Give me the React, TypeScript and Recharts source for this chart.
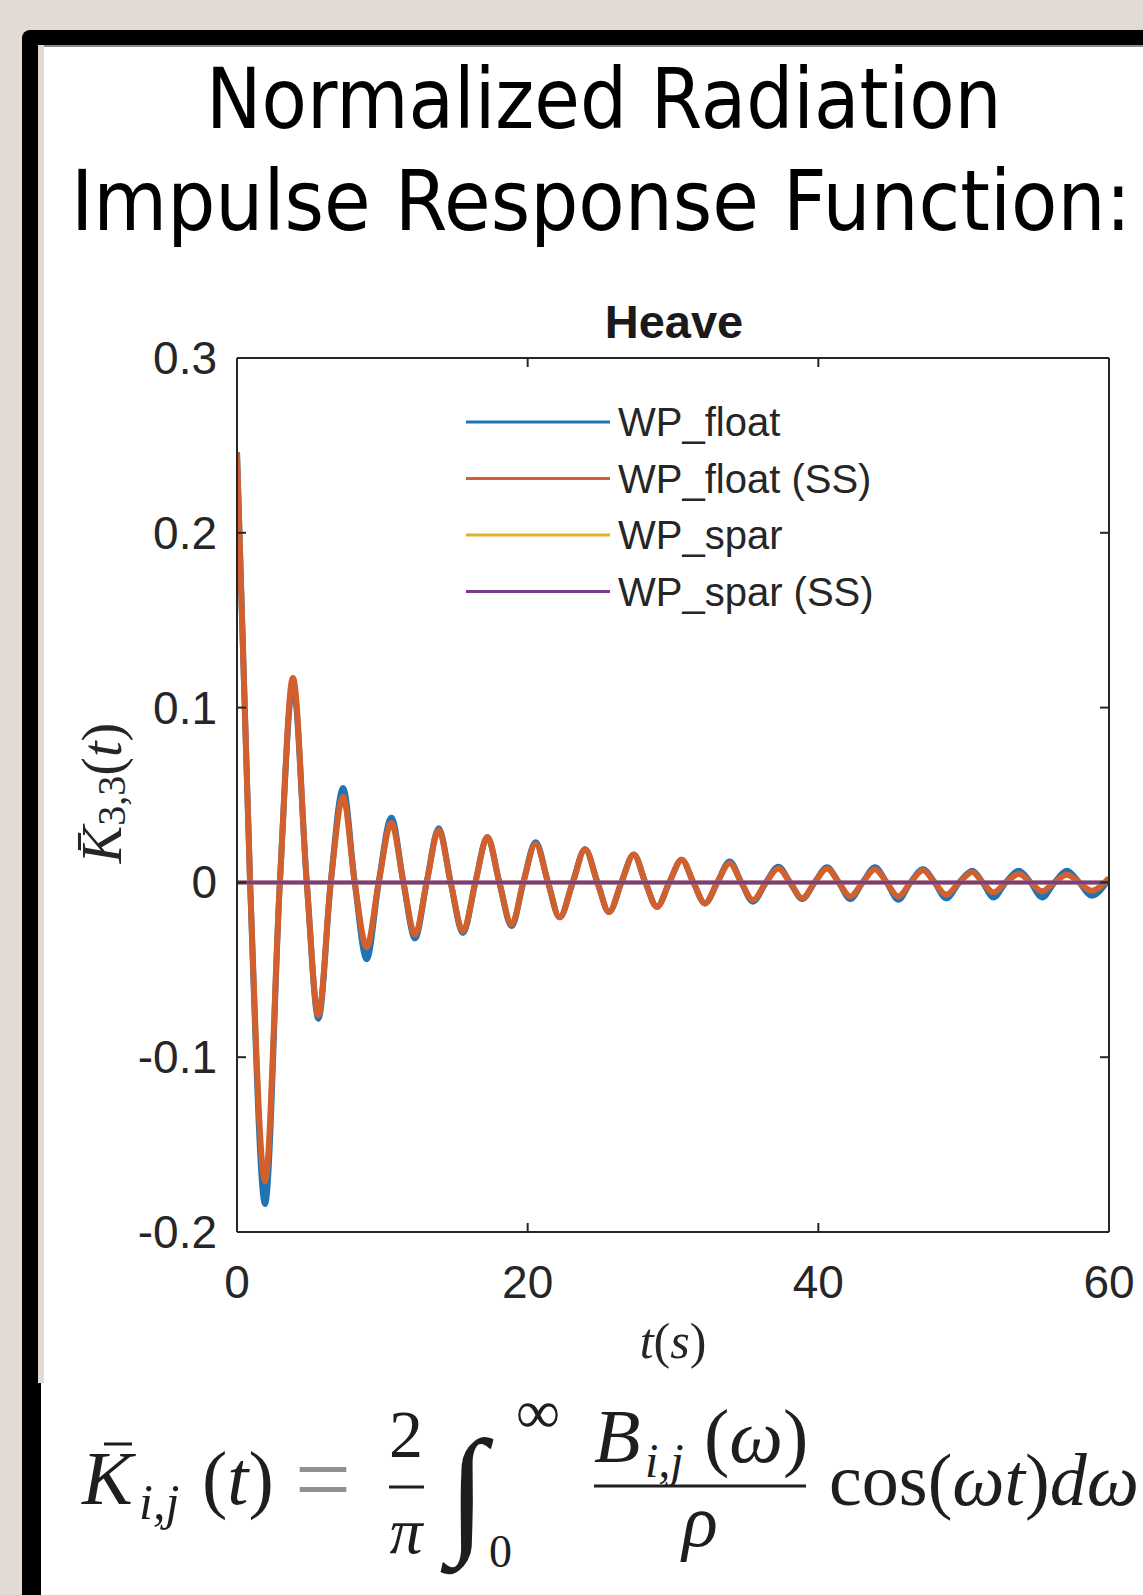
import React from "react"
import { LineChart, Line, XAxis, YAxis, Legend, Label } from "recharts"

// values (t in seconds, normalized IRF)
const timeS = [
  0, 0.9, 1.93, 2.95, 3.85, 4.8, 5.6, 6.45, 7.3, 8.1, 8.92, 9.75, 10.62, 11.45, 12.25, 13.05,
  13.88, 14.7, 15.55, 16.4, 17.23, 18.05, 18.9, 19.7, 20.55, 21.4, 22.2, 23.1, 23.95, 24.8,
  25.6, 26.45, 27.3, 28.1, 28.9, 29.75, 30.6, 31.4, 32.2, 33.05, 33.9, 34.7, 35.5, 36.4, 37.25,
  38.05, 38.9, 39.75, 40.6, 41.4, 42.2, 43.05, 43.9, 44.7, 45.5, 46.35, 47.2, 48.0, 48.8, 49.7,
  50.6, 51.3, 52.05, 52.9, 53.8, 54.6, 55.4, 56.25, 57.1, 57.95, 58.8, 60,
]
const wpFloat = [
  0.246, 0, -0.184, 0, 0.113, 0, -0.078, 0, 0.054, 0, -0.044, 0, 0.037, 0, -0.032, 0,
  0.031, 0, -0.029, 0, 0.026, 0, -0.025, 0, 0.023, 0, -0.02, 0, 0.019, 0,
  -0.017, 0, 0.016, 0, -0.014, 0, 0.013, 0, -0.012, 0, 0.012, 0, -0.011, 0, 0.009,
  0, -0.0095, 0, 0.0086, 0, -0.0095, 0, 0.0086, 0, -0.0099, 0, 0.0076, 0, -0.0091, 0,
  0.0067, 0, -0.0086, 0, 0.0067, 0, -0.0086, 0, 0.0067, 0, -0.0076, 0.002,
]
const wpFloatSS = [
  0.246, 0, -0.171, 0, 0.117, 0, -0.076, 0, 0.049, 0, -0.037, 0, 0.034, 0, -0.03, 0,
  0.03, 0, -0.028, 0, 0.026, 0, -0.024, 0, 0.022, 0, -0.02, 0, 0.019, 0,
  -0.017, 0, 0.016, 0, -0.014, 0, 0.013, 0, -0.012, 0, 0.011, 0, -0.01, 0, 0.008,
  0, -0.009, 0, 0.008, 0, -0.008, 0, 0.0075, 0, -0.008, 0, 0.007, 0, -0.007, 0,
  0.006, 0, -0.0057, 0, 0.0048, 0, -0.0051, 0, 0.0044, 0, -0.0048, 0.0025,
]
const sparTimeS = [0, 20, 40, 60]
const wpSpar = [0, 0, 0, 0]
const wpSparSS = [0, 0, 0, 0]

const xTicks = [0, 20, 40, 60]
const yTicks = [-0.2, -0.1, 0, 0.1, 0.2, 0.3]

const seriesNames = ["WP_float", "WP_float (SS)", "WP_spar", "WP_spar (SS)"]
const seriesColors = ["#1f74b5", "#d2602c", "#e0b12d", "#7a3a8e"]

const toRows = (ts: number[], vs: number[]) => ts.map((t, i) => ({ t, v: vs[i] }))

const SANS = "'Liberation Sans', Arial, Helvetica, sans-serif"
const SERIF = "'Liberation Serif', 'Times New Roman', serif"
const TITLE_FONT = "'DejaVu Sans', Verdana, sans-serif"
const INK = "#262626"
const TICK = 9
const TICK_FONT = 46

function BottomTick(props: any) {
  const { x, y, payload } = props
  return (
    <g>
      <line x1={x} x2={x} y1={y} y2={y - TICK} stroke={INK} strokeWidth={2} />
      <text x={x} y={y + 66} textAnchor="middle" fontSize={TICK_FONT} fontFamily={SANS} fill={INK}>
        {payload.value}
      </text>
    </g>
  )
}

function TopTick(props: any) {
  const { x, y } = props
  return <line x1={x} x2={x} y1={y} y2={y + TICK} stroke={INK} strokeWidth={2} />
}

function LeftTick(props: any) {
  const { x, y, payload } = props
  return (
    <g>
      <line x1={x} x2={x + TICK} y1={y} y2={y} stroke={INK} strokeWidth={2} />
      <text x={x - 20} y={y + 16} textAnchor="end" fontSize={TICK_FONT} fontFamily={SANS} fill={INK}>
        {payload.value}
      </text>
    </g>
  )
}

function RightTick(props: any) {
  const { x, y } = props
  return <line x1={x} x2={x - TICK} y1={y} y2={y} stroke={INK} strokeWidth={2} />
}

function XTitle(props: any) {
  const vb = props.viewBox || {}
  const cx = vb.x + vb.width / 2
  return (
    <text x={cx} y={vb.y + 126} textAnchor="middle" fontSize={50} fontFamily={SERIF} fill={INK}>
      <tspan fontSize={50} fontStyle="italic">t</tspan>
      <tspan fontSize={50}>(</tspan>
      <tspan fontSize={50} fontStyle="italic">s</tspan>
      <tspan fontSize={50}>)</tspan>
    </text>
  )
}

function YTitle(props: any) {
  const vb = props.viewBox || {}
  const cx = vb.x + 102
  const cy = vb.y + vb.height / 2 - 2
  return (
    <text
      x={cx}
      y={cy}
      transform={`rotate(-90 ${cx} ${cy})`}
      textAnchor="middle"
      dominantBaseline="central"
      fontSize={56}
      fontFamily={SERIF}
      fill={INK}
    >
      <tspan fontStyle="italic" fontSize={56}>K{"\u0304"}</tspan>
      <tspan fontSize={40} dy={9}>3,3</tspan>
      <tspan fontSize={56} dy={-9}>(</tspan>
      <tspan fontStyle="italic" fontSize={56}>t</tspan>
      <tspan fontSize={56}>)</tspan>
    </text>
  )
}

function LegendBox(props: any) {
  const payload = props.payload || []
  return (
    <svg width={440} height={230} style={{ display: "block" }}>
      {payload.map((entry: any, i: number) => {
        const cy = 27 + i * 56.5
        return (
          <g key={entry.value}>
            <line x1={6} x2={150} y1={cy} y2={cy} stroke={entry.color} strokeWidth={3} />
            <text x={158} y={cy + 14} fontSize={40} fontFamily={SANS} fill={INK}>
              {entry.value}
            </text>
          </g>
        )
      })}
    </svg>
  )
}

export default function App() {
  const floatRows = toRows(timeS, wpFloat)
  const floatSSRows = toRows(timeS, wpFloatSS)
  const sparRows = toRows(sparTimeS, wpSpar)
  const sparSSRows = toRows(sparTimeS, wpSparSS)

  return (
    <div
      style={{
        position: "absolute",
        left: 0,
        top: 0,
        width: 1143,
        height: 1595,
        background: "#e2dbd5",
        overflow: "hidden",
      }}
    >
      {/* slide frame */}
      <div style={{ position: "absolute", left: 22, top: 30, width: 1200, height: 1700, background: "#000", borderTopLeftRadius: 8 }} />
      <div style={{ position: "absolute", left: 38, top: 45, width: 1200, height: 1338, background: "#e2dbd5" }} />
      <div style={{ position: "absolute", left: 44, top: 45, width: 1200, height: 1338, background: "#fff", borderTop: "2px solid #8c8c8c", boxSizing: "border-box" }} />
      <div style={{ position: "absolute", left: 41, top: 1383, width: 1200, height: 300, background: "#fff" }} />

      <div style={{ position: "absolute", left: 0, top: 0 }}>
        <LineChart width={1143} height={1595} margin={{ top: 356, right: 32, bottom: 223, left: 0 }}>
          <XAxis
            type="number"
            dataKey="t"
            domain={[0, 60]}
            ticks={xTicks}
            interval={0}
            allowDataOverflow
            height={140}
            tickSize={0}
            tickMargin={0}
            tickLine={false}
            tick={BottomTick}
            axisLine={{ stroke: INK, strokeWidth: 2 }}
          >
            <Label content={XTitle} />
          </XAxis>
          <XAxis
            xAxisId="top"
            orientation="top"
            type="number"
            dataKey="t"
            domain={[0, 60]}
            ticks={xTicks}
            interval={0}
            allowDataOverflow
            height={2}
            tickSize={0}
            tickMargin={0}
            tickLine={false}
            tick={TopTick}
            axisLine={{ stroke: INK, strokeWidth: 2 }}
          />
          <YAxis
            type="number"
            domain={[-0.2, 0.3]}
            ticks={yTicks}
            interval={0}
            allowDataOverflow
            width={237}
            tickSize={0}
            tickMargin={0}
            tickLine={false}
            tick={LeftTick}
            axisLine={{ stroke: INK, strokeWidth: 2 }}
          >
            <Label content={YTitle} />
          </YAxis>
          <YAxis
            yAxisId="right"
            orientation="right"
            type="number"
            domain={[-0.2, 0.3]}
            ticks={yTicks}
            interval={0}
            allowDataOverflow
            width={2}
            tickSize={0}
            tickMargin={0}
            tickLine={false}
            tick={RightTick}
            axisLine={{ stroke: INK, strokeWidth: 2 }}
          />
          <Legend
            layout="vertical"
            align="center"
            verticalAlign="middle"
            wrapperStyle={{ left: 460, top: 395, width: 440, height: 230 }}
            content={LegendBox}
          />
          <Line data={floatRows} dataKey="v" name={seriesNames[0]} type="monotone" stroke={seriesColors[0]} strokeWidth={6} dot={false} activeDot={false} isAnimationActive={false} />
          <Line data={floatSSRows} dataKey="v" name={seriesNames[1]} type="monotone" stroke={seriesColors[1]} strokeWidth={6} dot={false} activeDot={false} isAnimationActive={false} />
          <Line data={sparRows} dataKey="v" name={seriesNames[2]} type="monotone" stroke={seriesColors[2]} strokeWidth={4} dot={false} activeDot={false} isAnimationActive={false} />
          <Line data={sparSSRows} dataKey="v" name={seriesNames[3]} type="monotone" stroke={seriesColors[3]} strokeWidth={4} dot={false} activeDot={false} isAnimationActive={false} />
        </LineChart>
      </div>

      {/* slide title, subplot title and formula */}
      <svg width={1143} height={1595} style={{ position: "absolute", left: 0, top: 0, pointerEvents: "none" }}>
        <text transform="translate(206 128) scale(0.89 1)" x={0} y={0} fontSize={84} fontFamily={TITLE_FONT} fill="#000" textLength={894} lengthAdjust="spacingAndGlyphs">
          Normalized Radiation
        </text>
        <text transform="translate(71 230) scale(0.89 1)" x={0} y={0} fontSize={84} fontFamily={TITLE_FONT} fill="#000" textLength={1191} lengthAdjust="spacingAndGlyphs">
          Impulse Response Function:
        </text>
        <text x={674} y={338} textAnchor="middle" fontSize={47} fontWeight="bold" fontFamily={SANS} fill="#1a1a1a">
          Heave
        </text>
        <g fontFamily={SERIF} fill="#1e1e1e">
          <text x={82} y={1504} fontSize={76} fontStyle="italic">K</text>
          <line x1={104} x2={132} y1={1444} y2={1444} stroke="#1e1e1e" strokeWidth={3} />
          <text x={139} y={1519} fontSize={50} fontStyle="italic">i,j</text>
          <text x={202} y={1504} fontSize={76}>
            <tspan fontSize={76}>(</tspan>
            <tspan fontSize={76} fontStyle="italic">t</tspan>
            <tspan fontSize={76}>)</tspan>
          </text>
          <text x={323} y={1513} fontSize={100} textAnchor="middle" fill="#909090">=</text>
          <text x={406} y={1457} fontSize={68} textAnchor="middle">2</text>
          <line x1={389} x2={424} y1={1487} y2={1487} stroke="#1e1e1e" strokeWidth={3} />
          <text x={406} y={1553} fontSize={66} textAnchor="middle" fontStyle="italic">π</text>
          <text x={448} y={1537} fontSize={140} fontStyle="italic">∫</text>
          <text x={516} y={1433} fontSize={62}>∞</text>
          <text x={489} y={1567} fontSize={46}>0</text>
          <text x={594} y={1462} fontSize={76} fontStyle="italic">B</text>
          <text x={645} y={1477} fontSize={48} fontStyle="italic">i,j</text>
          <text x={704} y={1462} fontSize={76}>
            <tspan fontSize={76}>(</tspan>
            <tspan fontSize={76} fontStyle="italic">ω</tspan>
            <tspan fontSize={76}>)</tspan>
          </text>
          <line x1={594} x2={806} y1={1486} y2={1486} stroke="#1e1e1e" strokeWidth={3} />
          <text x={700} y={1546} fontSize={74} fontStyle="italic" textAnchor="middle">ρ</text>
          <text x={829} y={1505} fontSize={74}>
            <tspan fontSize={74}>cos(</tspan>
            <tspan fontSize={74} fontStyle="italic">ωt</tspan>
            <tspan fontSize={74}>)</tspan>
            <tspan fontSize={74} fontStyle="italic">dω</tspan>
          </text>
        </g>
      </svg>
    </div>
  )
}
